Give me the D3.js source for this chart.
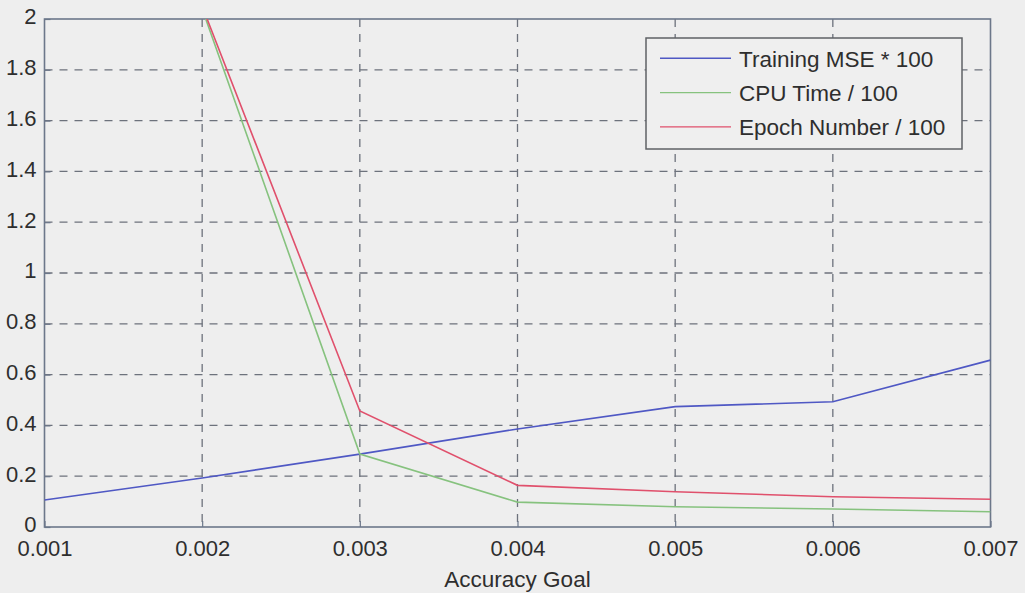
<!DOCTYPE html>
<html>
<head>
<meta charset="utf-8">
<script src="https://cdn.jsdelivr.net/npm/d3@7"></script>
<style>
  html, body { margin: 0; padding: 0; background: #eeeeee; }
  svg { display: block; font-family: "Liberation Sans", Arial, sans-serif; }
</style>
</head>
<body>
<svg id="chart" width="1025" height="593"></svg>
<script>
// Accuracy goal settings on the x axis
const accuracyGoal = [0.001, 0.002, 0.003, 0.004, 0.005, 0.006, 0.007];
// Scaled series (null where the run was not recorded)
const trainingMse = [0.106, 0.193, 0.287, 0.386, 0.474, 0.493, 0.657];
const cpuTime     = [null, 2.04, 0.287, 0.098, 0.080, 0.071, 0.060];
const epochNumber = [null, 2.05, 0.457, 0.164, 0.139, 0.119, 0.109];

const xTicks = [0.001, 0.002, 0.003, 0.004, 0.005, 0.006, 0.007];
const yTicks = [0, 0.2, 0.4, 0.6, 0.8, 1, 1.2, 1.4, 1.6, 1.8, 2];

const seriesNames = ["Training MSE * 100", "CPU Time / 100", "Epoch Number / 100"];
const seriesColors = ["#4f58c4", "#86c27e", "#e0506c"];
const seriesValues = [trainingMse, cpuTime, epochNumber];

const svg = d3.select("#chart");
const plot = { left: 44.5, right: 990.5, top: 19, bottom: 527 };

const x = d3.scaleLinear().domain([0.001, 0.007]).range([plot.left, plot.right]);
const y = d3.scaleLinear().domain([0, 2]).range([plot.bottom, plot.top]);

const textColor = "#2e2e2e";
const frameColor = "#6c778a";
const gridColor = "#6d727c";

// Clip region for data lines
svg.append("defs").append("clipPath").attr("id", "plotClip")
  .append("rect")
  .attr("x", plot.left).attr("y", plot.top)
  .attr("width", plot.right - plot.left).attr("height", plot.bottom - plot.top);

// Dashed grid
const grid = svg.append("g");
grid.selectAll("line.v").data(xTicks.slice(1, -1)).join("line")
  .attr("x1", d => x(d)).attr("x2", d => x(d))
  .attr("y1", plot.top).attr("y2", plot.bottom)
  .attr("stroke", gridColor).attr("stroke-width", 1.3)
  .attr("stroke-dasharray", "8,7");
grid.selectAll("line.h").data(yTicks.slice(1, -1)).join("line")
  .attr("x1", plot.left).attr("x2", plot.right)
  .attr("y1", d => y(d)).attr("y2", d => y(d))
  .attr("stroke", gridColor).attr("stroke-width", 1.3)
  .attr("stroke-dasharray", "8,7");

// Axes using d3 axis generators, inward ticks
const xAxis = svg.append("g")
  .attr("transform", `translate(0,${plot.bottom})`)
  .call(d3.axisBottom(x).tickValues(xTicks).tickFormat(d3.format(".3f")).tickSizeInner(-6).tickSizeOuter(0).tickPadding(13));
const yAxis = svg.append("g")
  .attr("transform", `translate(${plot.left},0)`)
  .call(d3.axisLeft(y).tickValues(yTicks).tickFormat(d => d3.format("")(+d.toFixed(1))).tickSizeInner(-6).tickSizeOuter(0).tickPadding(8));

[xAxis, yAxis].forEach(a => {
  a.select(".domain").remove();
  a.selectAll(".tick line").attr("stroke", frameColor).attr("stroke-width", 1.2);
  a.selectAll(".tick text").attr("fill", textColor).attr("font-size", 22)
    .attr("font-family", "'Liberation Sans', Arial, sans-serif");
});
xAxis.selectAll(".tick text").attr("dy", "0.71em");
yAxis.selectAll(".tick text").attr("dy", "0.22em");

// Axes box
svg.append("rect")
  .attr("x", plot.left).attr("y", plot.top)
  .attr("width", plot.right - plot.left).attr("height", plot.bottom - plot.top)
  .attr("fill", "none").attr("stroke", frameColor).attr("stroke-width", 1.6);

// Data lines
const line = d3.line()
  .defined(d => d[1] !== null)
  .x(d => x(d[0])).y(d => y(d[1]));
svg.append("g").attr("clip-path", "url(#plotClip)")
  .selectAll("path").data(seriesValues).join("path")
  .attr("d", vals => line(vals.map((v, i) => [accuracyGoal[i], v])))
  .attr("fill", "none")
  .attr("stroke", (d, i) => seriesColors[i])
  .attr("stroke-width", 1.6);

// X axis title
svg.append("text")
  .attr("x", (plot.left + plot.right) / 2).attr("y", 587)
  .attr("text-anchor", "middle").attr("fill", textColor).attr("font-size", 22.5)
  .text("Accuracy Goal");

// Legend
const legend = svg.append("g");
legend.append("rect")
  .attr("x", 646).attr("y", 38).attr("width", 316).attr("height", 111)
  .attr("fill", "#efefef").attr("stroke", "#5f6266").attr("stroke-width", 1.5);
const rows = legend.selectAll("g.row").data(seriesNames).join("g")
  .attr("transform", (d, i) => `translate(0,${58.3 + i * 34.3})`);
rows.append("line")
  .attr("x1", 660).attr("x2", 731).attr("y1", 0).attr("y2", 0)
  .attr("stroke", (d, i) => seriesColors[i]).attr("stroke-width", 1.4);
rows.append("text")
  .attr("x", 739).attr("y", 8.2)
  .attr("fill", textColor).attr("font-size", 22.5)
  .text(d => d);
</script>
</body>
</html>
